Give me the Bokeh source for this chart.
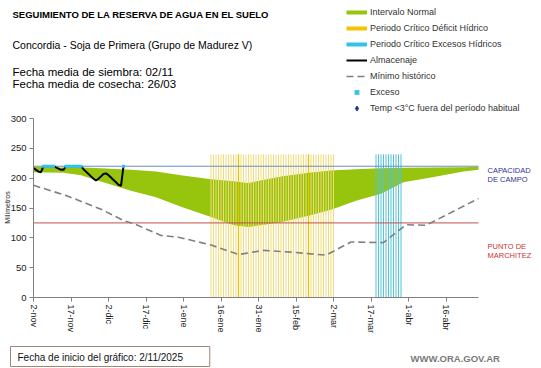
from bokeh.plotting import figure
from bokeh.models import Range1d, FixedTicker, Label, Legend, LegendItem
from bokeh.embed import file_html
from bokeh.resources import INLINE

# ---------------- data ----------------
tick_days = [0, 15, 30, 45, 60, 75, 90, 105, 120, 135, 150, 165]
tick_labels = ["2-nov", "17-nov", "2-dic", "17-dic", "1-ene", "16-ene",
               "31-ene", "15-feb", "2-mar", "17-mar", "1-abr", "16-abr"]
y_ticks = [0, 50, 100, 150, 200, 250, 300]

# Intervalo normal (days since 2-nov)
band_days = [0, 12, 19, 25, 39, 49, 59, 71, 80, 86, 99, 110, 119, 129, 139, 148, 159, 172, 178]
band_upper = [219, 218, 218, 217, 214, 211, 205, 198, 195, 192, 203, 209, 213, 215, 216.5, 217.5, 218, 218.5, 219]
band_lower = [210, 209, 205, 197, 179, 168, 152, 135, 121, 118, 126, 137, 147, 162, 174, 193, 201, 211, 214]

# Minimo historico
min_days = [0, 13, 27, 36, 40, 51, 58, 71, 82, 92, 103, 117, 127, 140, 149, 157, 178]
min_vals = [188, 171, 148, 129, 124, 104, 101, 88, 72, 79, 76, 71, 93, 92, 122, 121, 166]

# Almacenaje (daily)
alm_days = list(range(0, 37))
alm_vals = [217, 214, 211, 210, 220, 220, 220, 220, 220, 218, 216, 214, 214,
            220, 220, 220, 220, 220, 220, 220, 215, 211, 207, 203, 199, 196,
            199, 203, 207, 208, 205, 201, 197, 193, 189, 187, 220]

capacidad_campo = 220
punto_marchitez = 125
x_end = 178

deficit_start, deficit_end = 71, 120      # Periodo critico deficit hidrico
exceso_start, exceso_end = 137, 147       # Periodo critico excesos hidricos
period_top = 240
deficit_strong_days = [82, 110]

exc_days = [d for d, v in zip(alm_days, alm_vals) if v >= capacidad_campo]
exc_vals = [v for v in alm_vals if v >= capacidad_campo]

# ---------------- figure ----------------
W, H = 541, 368
# plot area in page pixels: left 33, right 478, top 118, bottom 297
PX_DAY = 2.5
PX_MM = 179.0 / 300.0
x0 = -33 / PX_DAY
x1 = x0 + W / PX_DAY
y0 = -(H - 297) / PX_MM
y1 = y0 + H / PX_MM

p = figure(width=W, height=H, x_range=Range1d(x0, x1), y_range=Range1d(y0, y1),
           output_backend="svg", toolbar_location=None,
           min_border_left=0, min_border_right=0, min_border_top=0, min_border_bottom=0)
p.outline_line_color = None
p.grid.visible = False
p.background_fill_color = "white"
p.border_fill_color = "white"

GREEN = "#97c40c"
p.varea(x=band_days, y1=band_lower, y2=band_upper, fill_color=GREEN, fill_alpha=1.0)

dx = list(range(deficit_start, deficit_end + 1))
p.segment(x0=dx, x1=dx, y0=[0] * len(dx), y1=[period_top] * len(dx),
          line_color="#f1dc78", line_width=1)
p.segment(x0=deficit_strong_days, x1=deficit_strong_days,
          y0=[0] * len(deficit_strong_days), y1=[period_top] * len(deficit_strong_days),
          line_color="#e8c300", line_width=1.3)
ex = list(range(exceso_start, exceso_end + 1))
p.segment(x0=ex, x1=ex, y0=[0] * len(ex), y1=[period_top] * len(ex),
          line_color="#4fc4da", line_width=1)

p.line([0, x_end], [capacidad_campo, capacidad_campo], line_color="#6a8cc4", line_width=1)
p.line([0, x_end], [punto_marchitez, punto_marchitez], line_color="#c0504d", line_width=1)

r_min = p.line(min_days, min_vals, line_color="#7f7f7f", line_width=1.6, line_dash="7 4")
r_alm = p.line(alm_days, alm_vals, line_color="black", line_width=2)
r_exc = p.scatter(exc_days, exc_vals, marker="square", size=3, fill_color="#33c3e8",
                  line_color=None)

# legend-only renderers (NaN data: nothing drawn in the plot)
NAN = [float("nan")]
r_int = p.line(NAN, NAN, line_color=GREEN, line_width=4)
r_def = p.line(NAN, NAN, line_color="#f5c400", line_width=4)
r_exh = p.line(NAN, NAN, line_color="#33c3e8", line_width=4)
r_tmp = p.scatter(NAN, NAN, marker="diamond", size=7, fill_color="#1f2f99", line_color="#1f2f99")

legend = Legend(items=[
    LegendItem(label="Intervalo Normal", renderers=[r_int]),
    LegendItem(label="Periodo Crítico Déficit Hídrico", renderers=[r_def]),
    LegendItem(label="Periodo Crítico Excesos Hídricos", renderers=[r_exh]),
    LegendItem(label="Almacenaje", renderers=[r_alm]),
    LegendItem(label="Mínimo histórico", renderers=[r_min]),
    LegendItem(label="Exceso", renderers=[r_exc]),
    LegendItem(label="Temp <3°C fuera del período habitual", renderers=[r_tmp]),
], location=(346, H - 114), glyph_width=21, glyph_height=12, label_height=12, spacing=4,
    padding=0, margin=0, label_standoff=3, border_line_alpha=0, background_fill_alpha=0,
    label_text_font="Liberation Sans", label_text_font_size="9px", label_text_color="#333333")
p.add_layout(legend, "center")

# axes, fixed at the data origin
xa = p.xaxis[0]
ya = p.yaxis[0]
xa.fixed_location = 0
ya.fixed_location = 0
xa.bounds = (0, x_end)
ya.bounds = (0, 300)
for ax in (xa, ya):
    ax.axis_line_color = "#808080"
    ax.major_tick_line_color = "#808080"
    ax.major_tick_in = 0
    ax.major_tick_out = 4
    ax.minor_tick_line_color = None
    ax.major_label_text_font = "Liberation Sans"
    ax.major_label_text_color = "#222222"
    ax.major_label_standoff = 3

xa.ticker = FixedTicker(ticks=tick_days)
xa.major_label_overrides = {d: l for d, l in zip(tick_days, tick_labels)}
xa.major_label_orientation = "vertical"
xa.major_label_text_font_size = "9px"
ya.ticker = FixedTicker(ticks=y_ticks)
ya.major_label_text_font_size = "9.5px"


def txt(t, fx, fy, size, color="#000000", style="normal", font="Liberation Sans",
        align="left", angle=0.0, **kw):
    lab = Label(x=fx, y=H - fy, x_units="screen", y_units="screen", text=t,
                text_font=font, text_font_size=size, text_color=color,
                text_font_style=style, text_align=align, text_baseline="middle",
                angle=angle, **kw)
    p.add_layout(lab)
    return lab


txt("SEGUIMIENTO DE LA RESERVA DE AGUA  EN EL SUELO", 12, 14, "9.5px", style="bold")
txt("Concordia - Soja de Primera (Grupo de Madurez V)", 12, 44, "10.5px")
txt("Fecha media de siembra: 02/11", 12, 71, "11.5px")
txt("Fecha media de cosecha: 26/03", 12, 83, "11.5px")
txt("CAPACIDAD", 487, 170, "7.5px", color="#333399")
txt("DE  CAMPO", 487, 179, "7.5px", color="#333399")
txt("PUNTO  DE", 487, 246, "7.5px", color="#cc3333")
txt("MARCHITEZ", 487, 255, "7.5px", color="#cc3333")
txt("Milímetros", 7, 207, "7px", color="#222222", align="center", angle=1.5708)
txt("Fecha de inicio del gráfico:  2/11/2025", 10, 356, "10px", color="#111111",
    border_line_color="#a08478", border_line_width=1, background_fill_color="white",
    padding=dict(left=7, right=24, top=5, bottom=4))
txt("WWW.ORA.GOV.AR", 410, 358, "9.5px", color="#7a7a7a", style="bold")

open("out.html", "w").write(file_html(p, INLINE))
